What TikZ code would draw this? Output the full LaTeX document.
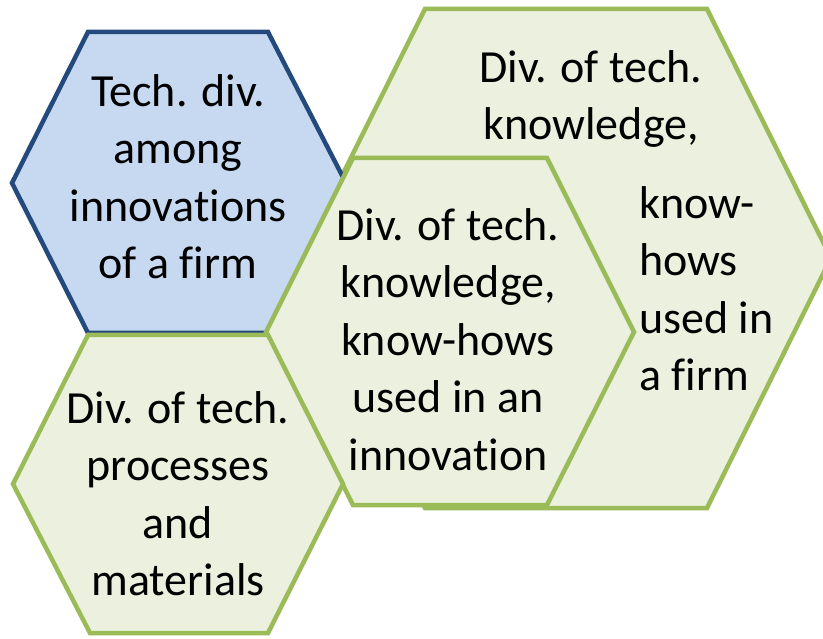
\documentclass[tikz,border=0pt]{standalone}
\usepackage{fontspec}
\setmainfont{Carlito}[Ligatures=NoCommon]
\definecolor{bluefill}{HTML}{C6D9F1}
\definecolor{blueline}{HTML}{24497D}
\definecolor{greenfill}{HTML}{EBF1DE}
\definecolor{greenline}{HTML}{9BBB59}
\newcommand{\firststrut}{\rule{0pt}{40pt}}
\begin{document}
\begin{tikzpicture}[x=1pt,y=-1pt,
  hexblue/.style={draw=blueline,fill=bluefill,line width=4.5pt,line join=miter},
  hexgreen/.style={draw=greenline,fill=greenfill,line width=4.5pt,line join=miter},
  hextext/.style={inner sep=0pt,align=center,font=\fontsize{46}{57.5}\selectfont,anchor=north},
  hextextleft/.style={inner sep=0pt,align=left,font=\fontsize{46}{57.5}\selectfont,anchor=north west}]
\useasboundingbox (0,0) rectangle (823,639);
\fill[white] (0,0) rectangle (823,639);
\clip (0,0) rectangle (823,639);
% large hexagon (firm)
\draw[hexgreen] (301,258) -- (425,9) -- (707,9) -- (831,258) -- (707,508) -- (425,508) -- cycle;
% blue hexagon
\draw[hexblue] (12,183) -- (88,32) -- (268,32) -- (346,183) -- (268,333) -- (88,333) -- cycle;
% middle hexagon (innovation)
\draw[hexgreen] (266,332) -- (353,158) -- (547,158) -- (634,332) -- (547,505) -- (353,505) -- cycle;
% bottom-left hexagon
\draw[hexgreen] (13,484) -- (88,335) -- (268,335) -- (343,484) -- (268,633) -- (90,633) -- cycle;
% texts
\node[hextext] (tblue) at (178,66) {\firststrut Tech. div.\\among\\innovations\\of a firm};
\node[hextext] (tbottom) at (178,383) {\firststrut Div. of tech.\\processes\\and\\materials};
\node[hextext] (tmiddle) at (448,200) {\firststrut Div. of tech.\\knowledge,\\know-hows\\used in an\\innovation};
\node[hextext] (tbigtop) at (591,42) {\firststrut Div. of tech.\\knowledge,};
\node[hextextleft] (tbiglow) at (639,178) {\firststrut know-\\hows\\used in\\a firm};
\end{tikzpicture}
\end{document}
